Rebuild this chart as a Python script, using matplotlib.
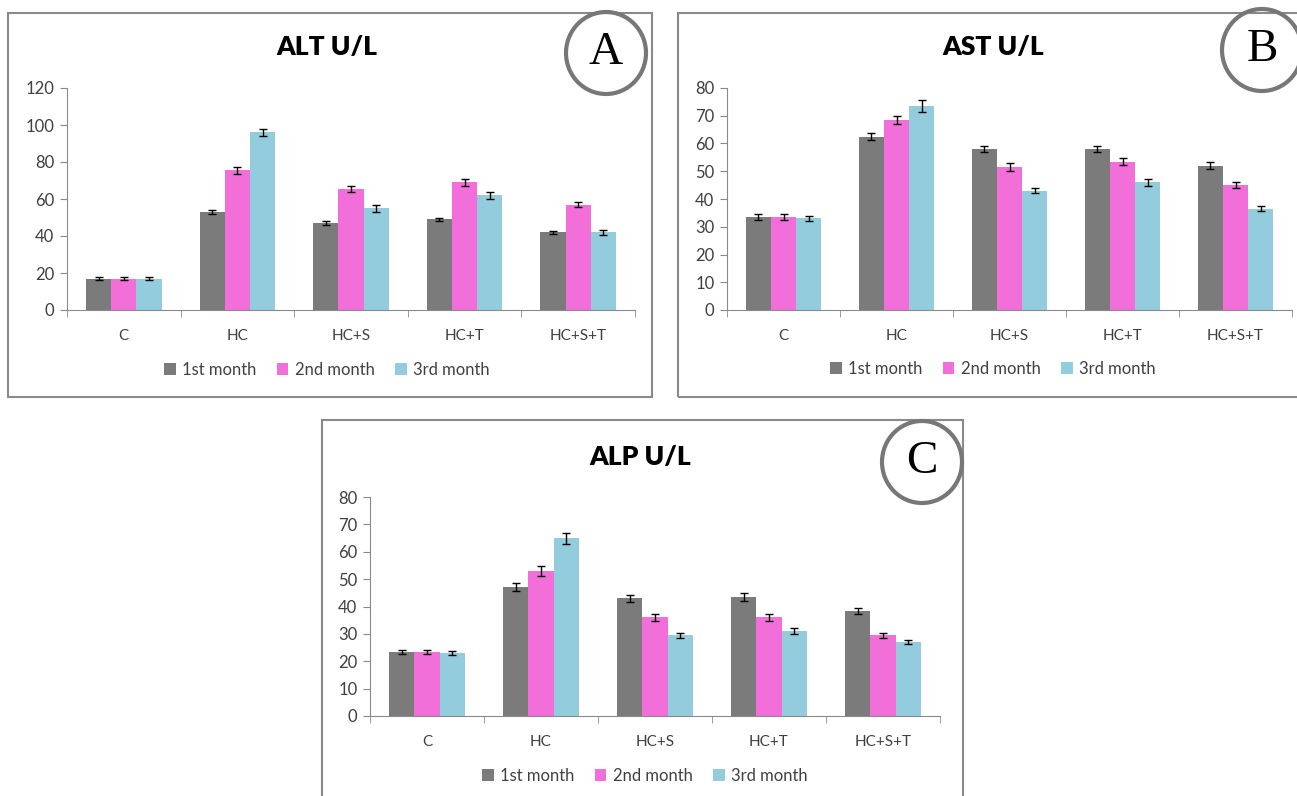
import numpy as np
import matplotlib.pyplot as plt
from matplotlib.patches import Rectangle, Ellipse

groups = ['C', 'HC', 'HC+S', 'HC+T', 'HC+S+T']
months = ['1st month', '2nd month', '3rd month']
colors = ['#7b7b7b', '#f26fd9', '#93cddd']

# ALT U/L
alt_m1 = [17, 53, 47, 49, 42]
alt_m2 = [17, 75.5, 65.5, 69, 57]
alt_m3 = [17, 96, 55, 62, 42]
alt_e1 = [0.8, 1.0, 1.0, 1.0, 0.8]
alt_e2 = [0.8, 1.8, 1.7, 1.8, 1.2]
alt_e3 = [0.8, 2.0, 2.0, 2.0, 1.5]

# AST U/L
ast_m1 = [33.5, 62.5, 58, 58, 52]
ast_m2 = [33.5, 68.5, 51.5, 53.5, 45]
ast_m3 = [33, 73.5, 43, 46, 36.5]
ast_e1 = [1.0, 1.2, 1.2, 1.2, 1.2]
ast_e2 = [1.2, 1.5, 1.5, 1.3, 1.0]
ast_e3 = [1.0, 2.0, 1.0, 1.2, 0.8]

# ALP U/L
alp_m1 = [23.5, 47, 43, 43.5, 38.5]
alp_m2 = [23.5, 53, 36, 36, 29.5]
alp_m3 = [23, 65, 29.5, 31, 27]
alp_e1 = [0.7, 1.5, 1.3, 1.5, 1.1]
alp_e2 = [0.7, 1.7, 1.3, 1.3, 1.0]
alp_e3 = [0.6, 2.0, 1.0, 1.2, 0.8]

plt.rcParams['font.family'] = ['Lato', 'DejaVu Sans']

W, H = 1297, 796
fig = plt.figure(figsize=(W / 100, H / 100), dpi=100)


def px(x0, y0, x1, y1):
    # pixel box -> figure fraction [left, bottom, width, height]
    return [x0 / W, 1 - y1 / H, (x1 - x0) / W, (y1 - y0) / H]


def panel(box, axbox, title, title_xy, letter, circ_xy, legend_xy,
          means, errs, ymax, ystep):
    bx0, by0, bx1, by1 = box
    fig.patches.append(Rectangle((bx0 / W, 1 - by1 / H), (bx1 - bx0) / W,
                                 (by1 - by0) / H, transform=fig.transFigure,
                                 fill=False, edgecolor='#8a8a8a', lw=1.5))
    ax = fig.add_axes(px(*axbox))
    x = np.arange(len(groups))
    w = 1 / 4.5
    for i in range(3):
        ax.bar(x + (i - 1) * w, means[i], w, color=colors[i],
               label=months[i], zorder=2)
        ax.errorbar(x + (i - 1) * w, means[i], yerr=errs[i], fmt='none',
                    ecolor='black', elinewidth=1, capsize=3, capthick=1,
                    zorder=3)
    ax.set_xlim(-0.5, len(groups) - 0.5)
    ax.set_ylim(0, ymax)
    ax.set_yticks(np.arange(0, ymax + 1, ystep))
    ax.set_xticks(x)
    ax.set_xticklabels(groups)
    ax.set_xticks(np.arange(-0.5, len(groups), 1), minor=True)
    ax.tick_params(axis='x', which='major', length=0, pad=14,
                   labelsize=11, labelcolor='#404040')
    ax.tick_params(axis='x', which='minor', length=5, color='#8a8a8a')
    ax.tick_params(axis='y', length=5, color='#8a8a8a', labelsize=12,
                   labelcolor='#404040', pad=4)
    for s in ['top', 'right']:
        ax.spines[s].set_visible(False)
    for s in ['left', 'bottom']:
        ax.spines[s].set_color('#8a8a8a')
    fig.text(title_xy[0] / W, 1 - title_xy[1] / H, title, ha='center',
             va='center', fontsize=19, fontweight='heavy', color='black')
    fig.patches.append(Ellipse((circ_xy[0] / W, 1 - circ_xy[1] / H),
                               80 / W, 82 / H, transform=fig.transFigure,
                               fill=False, edgecolor='#777777', lw=3))
    fig.text(circ_xy[0] / W, 1 - circ_xy[1] / H, letter, ha='center',
             va='center', fontsize=34, family='Liberation Serif',
             color='black')
    ax.legend(loc='center', bbox_to_anchor=(legend_xy[0] / W,
                                            1 - legend_xy[1] / H),
              bbox_transform=fig.transFigure, ncol=3, frameon=False,
              handlelength=0.7, handleheight=0.7, handletextpad=0.4,
              columnspacing=1.2, fontsize=12, labelcolor='#404040')
    return ax


panel((8, 13, 652, 397), (67, 88, 635, 310), 'ALT U/L', (327, 47), 'A',
      (606, 53), (327, 370),
      [alt_m1, alt_m2, alt_m3], [alt_e1, alt_e2, alt_e3], 120, 20)

panel((678, 13, 1310, 397), (727, 88, 1292, 310), 'AST U/L', (993, 47), 'B',
      (1262, 50), (993, 369),
      [ast_m1, ast_m2, ast_m3], [ast_e1, ast_e2, ast_e3], 80, 10)

panel((322, 420, 963, 810), (370, 497, 940, 716), 'ALP U/L', (640, 457),
      'C', (922, 462), (645, 776),
      [alp_m1, alp_m2, alp_m3], [alp_e1, alp_e2, alp_e3], 80, 10)

fig.savefig('out.png', dpi=100)
